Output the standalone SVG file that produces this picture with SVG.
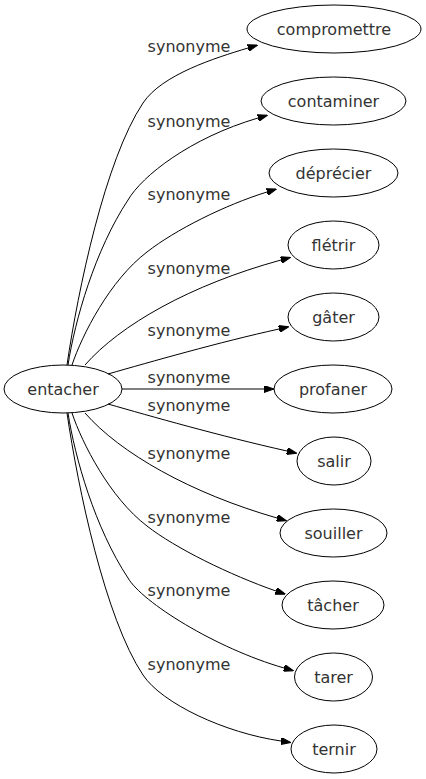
<svg xmlns="http://www.w3.org/2000/svg" width="426" height="779" viewBox="0 0 426 779">
<style>
.node ellipse{fill:none;stroke:#000;stroke-width:1}
text{font-family:"DejaVu Sans",sans-serif;font-size:16px;fill:#333;text-anchor:middle}
.edge path{fill:none;stroke:#000;stroke-width:1}
</style>
<defs>
<marker id="arr" viewBox="0 0 10 7" refX="0" refY="3.5" markerWidth="10" markerHeight="7" markerUnits="userSpaceOnUse" orient="auto">
<path d="M0,0 L10,3.5 L0,7 z" fill="#000" stroke="#000" stroke-width="1"/>
</marker>
</defs>
<rect width="426" height="779" fill="#fff"/>
<g id="edges" class="edge">
<path marker-end="url(#arr)" d="M67,365 C78,290 105,160 143,103 C162,74.5 215,58 248,48"/>
<path marker-end="url(#arr)" d="M68,365 C75,320 95,250 128,200 C142,176 190,138 258,118"/>
<path marker-end="url(#arr)" d="M72,365 C82,335 110,280 147,252 C175,230 225,205 267,192"/>
<path marker-end="url(#arr)" d="M85,365 C120,325 190,285 281,260"/>
<path marker-end="url(#arr)" d="M108,374 C150,362 220,342 279,329"/>
<path marker-end="url(#arr)" d="M122,389 L264,389"/>
<path marker-end="url(#arr)" d="M108,404 C150,416 220,436 287,451"/>
<path marker-end="url(#arr)" d="M85,413 C120,453 190,493 277,518"/>
<path marker-end="url(#arr)" d="M72,413 C82,443 110,498 147,526 C175,548 230,575 276,591"/>
<path marker-end="url(#arr)" d="M68,413 C75,458 95,528 128,578 C142,602 215,648 284,668"/>
<path marker-end="url(#arr)" d="M67,413 C78,488 105,618 143,675 C162,703.5 225,733 281,741"/>
<text x="189" y="52">synonyme</text>
<text x="189" y="127">synonyme</text>
<text x="189" y="200">synonyme</text>
<text x="189" y="274">synonyme</text>
<text x="189" y="336">synonyme</text>
<text x="189" y="383">synonyme</text>
<text x="189" y="411">synonyme</text>
<text x="189" y="459">synonyme</text>
<text x="189" y="523">synonyme</text>
<text x="189" y="596">synonyme</text>
<text x="189" y="670">synonyme</text>
</g>
<g id="entacher" class="node"><ellipse cx="63" cy="389" rx="59" ry="24"/><text x="63" y="395">entacher</text></g>
<g id="compromettre" class="node"><ellipse cx="334" cy="29" rx="87" ry="24"/><text x="334" y="35">compromettre</text></g>
<g id="contaminer" class="node"><ellipse cx="333.5" cy="101" rx="72.5" ry="24"/><text x="333.5" y="107">contaminer</text></g>
<g id="deprecier" class="node"><ellipse cx="333.5" cy="173" rx="64.5" ry="24"/><text x="333.5" y="179">déprécier</text></g>
<g id="fletrir" class="node"><ellipse cx="333.5" cy="245" rx="45.5" ry="24"/><text x="333.5" y="251">flétrir</text></g>
<g id="gater" class="node"><ellipse cx="333.5" cy="317" rx="45.5" ry="24"/><text x="333.5" y="323">gâter</text></g>
<g id="profaner" class="node"><ellipse cx="333" cy="389" rx="59" ry="24"/><text x="333" y="395">profaner</text></g>
<g id="salir" class="node"><ellipse cx="334" cy="461" rx="37" ry="24"/><text x="334" y="467">salir</text></g>
<g id="souiller" class="node"><ellipse cx="333.5" cy="533" rx="53.5" ry="24"/><text x="333.5" y="539">souiller</text></g>
<g id="tacher" class="node"><ellipse cx="333" cy="605" rx="51" ry="24"/><text x="333" y="611">tâcher</text></g>
<g id="tarer" class="node"><ellipse cx="333.5" cy="677" rx="39" ry="24"/><text x="333.5" y="683">tarer</text></g>
<g id="ternir" class="node"><ellipse cx="334" cy="749" rx="43" ry="24"/><text x="334" y="755">ternir</text></g>
</svg>
